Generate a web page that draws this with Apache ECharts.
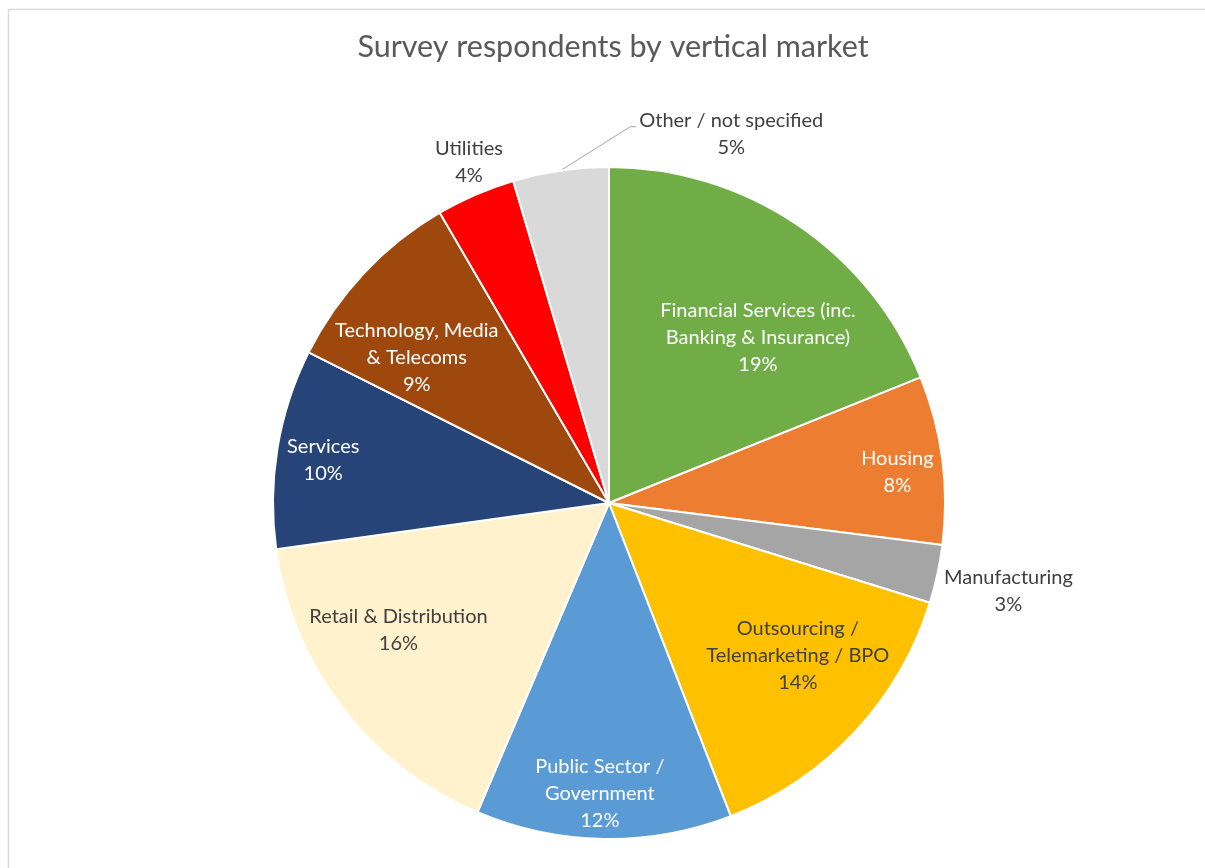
<!DOCTYPE html>
<html>
<head>
<meta charset="utf-8">
<script src="https://cdn.jsdelivr.net/npm/echarts@6/dist/echarts.min.js"></script>
<style>
html,body{margin:0;padding:0;background:#fff;}
#chart{width:1205px;height:868px;}
</style>
</head>
<body>
<div id="chart"></div>
<script>
// ---- data ----
const titleText = 'Survey respondents by vertical market';
const categories = [
  'Financial Services (inc.\nBanking & Insurance)',
  'Housing',
  'Manufacturing',
  'Outsourcing /\nTelemarketing / BPO',
  'Public Sector /\nGovernment',
  'Retail & Distribution',
  'Services',
  'Technology, Media\n& Telecoms',
  'Utilities',
  'Other / not specified'
];
// shares (%); labels show them rounded
const shares = [18.9, 8.1, 2.8, 14.3, 12.3, 16.4, 9.6, 9.2, 3.8, 4.6];
const colors = ['#70AD47', '#ED7D31', '#A5A5A5', '#FFC000', '#5B9BD5', '#FFF2CC', '#264478', '#9E480E', '#FF0000', '#D9D9D9'];
const labelColors = ['#ffffff', '#ffffff', '#404040', '#404040', '#ffffff', '#404040', '#ffffff', '#ffffff', '#404040', '#404040'];

// ---- layout / style ----
const CX = 609, CY = 503, R = 336;
const labelDist = [223, 290, 409, 243, 291, 246, 289, 241, 369, 389];
const labelAngleShift = [7.9, 1.3, 0.2, -4.0, 0.9, 6.3, -0.8, -6.1, 1.1, 26.6];
const leaderItems = [9];
const FONT = 'Lato';

const total = shares.reduce((a, b) => a + b, 0);
const midAngles = [];
let acc = 0;
shares.forEach(v => { midAngles.push((acc + v / 2) / total * 360); acc += v; });

const chart = echarts.init(document.getElementById('chart'), null, {renderer: 'canvas'});
chart.setOption({
  backgroundColor: '#ffffff',
  animation: false,
  title: {
    text: titleText,
    left: 608,
    textAlign: 'center',
    top: 27,
    textStyle: {fontFamily: FONT, fontSize: 30.5, fontWeight: 'normal', color: '#595959'}
  },
  graphic: [{
    type: 'rect', silent: true, z: -1,
    shape: {x: 8.5, y: 9.5, width: 1300, height: 1000},
    style: {fill: 'none', stroke: '#d9d9d9', lineWidth: 1.5}
  }],
  series: [{
    type: 'pie',
    center: [CX, CY],
    radius: [0, R],
    startAngle: 90,
    clockwise: true,
    avoidLabelOverlap: false,
    itemStyle: {borderColor: '#ffffff', borderWidth: 2},
    label: {
      show: true,
      position: 'inside',
      fontFamily: FONT,
      fontSize: 20,
      lineHeight: 27,
      align: 'center',
      formatter: p => p.name + '\n' + Math.round(p.percent) + '%'
    },
    labelLine: {show: false},
    labelLayout: function (params) {
      const i = params.dataIndex;
      const a = (midAngles[i] + labelAngleShift[i]) * Math.PI / 180;
      const x = CX + labelDist[i] * Math.sin(a);
      const y = CY - labelDist[i] * Math.cos(a);
      const out = {x: x, y: y, align: 'center', verticalAlign: 'middle'};
      if (leaderItems.indexOf(i) >= 0) {
        const m = midAngles[i] * Math.PI / 180;
        const sx = CX + R * Math.sin(m), sy = CY - R * Math.cos(m);
        const w = params.labelRect.width;
        out.labelLinePoints = [[sx, sy], [x - w / 2 - 9, y - 7], [x - w / 2 - 3, y - 7]];
      }
      return out;
    },
    data: categories.map((c, i) => ({
      name: c,
      value: shares[i],
      itemStyle: {color: colors[i]},
      label: {color: labelColors[i], position: leaderItems.indexOf(i) >= 0 ? 'outside' : 'inside'},
      labelLine: leaderItems.indexOf(i) >= 0 ? {show: true, length: 10, length2: 10, lineStyle: {color: '#a6a6a6', width: 1}} : {show: false}
    }))
  }]
});
</script>
</body>
</html>
